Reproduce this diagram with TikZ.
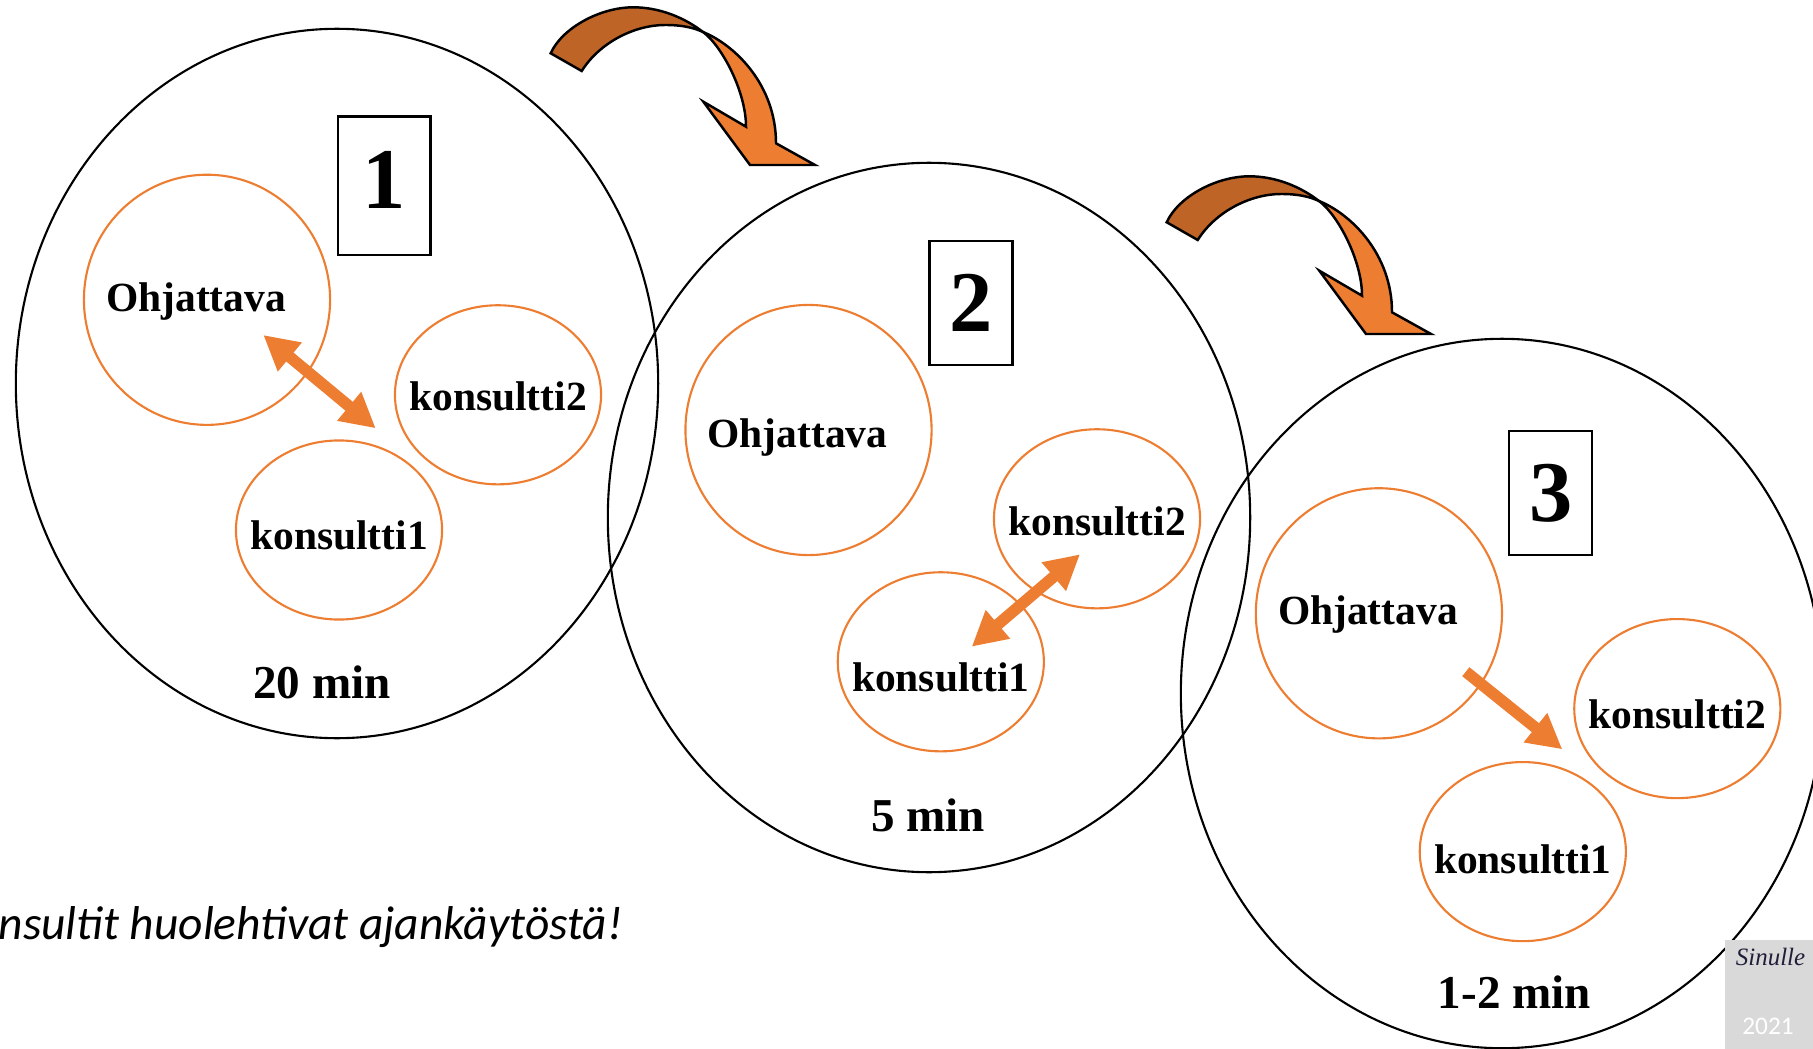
\documentclass[tikz,border=0pt]{standalone}
\usepackage{fontspec}
\setmainfont{Liberation Serif}
\newfontfamily\carlito{Carlito}
\usetikzlibrary{arrows.meta, shapes.geometric, positioning}

\definecolor{oranssi}{HTML}{ED7D31}
\definecolor{ruskea}{RGB}{190,100,38}
\definecolor{harmaa}{HTML}{D9D9D9}
\definecolor{tumma}{HTML}{1F1F3A}

\newcommand{\nimi}[2][0pt]{\makebox[0pt]{#2\hspace*{#1}}}

\tikzset{
	kaarinuoli/.pic={
		\filldraw[fill=ruskea, draw=black, line width=0.7pt] (550.7,53.3) .. controls (562,28) and (600,7.3) .. (633.3,7.3)
		.. controls (660,7.3) and (685,18) .. (703,32)
		.. controls (693,27.5) and (682,25) .. (665,25)
		.. controls (635,25) and (600,42) .. (581.7,71) -- cycle;
		\filldraw[fill=oranssi, draw=black, line width=0.7pt] (703,32) .. controls (735,45) and (776,85) .. (776,143.3)
		-- (815,165) -- (750,165) -- (703.3,101.7) -- (746,126.7)
		.. controls (746,91.7) and (722,46) .. (703,32) -- cycle;
	}
}

\begin{document}
\begin{tikzpicture}[x=0.01cm, y=-0.01cm,
	iso/.style={draw, line width=0.6pt},
	laatikko/.style={draw, line width=0.7pt, inner sep=0pt, minimum width=0.83cm, minimum height=1.24cm, font=\fontsize{24.6pt}{28pt}\selectfont\bfseries},
	henkilo/.style={ellipse, draw=oranssi, line width=0.6pt, inner sep=0pt, text depth=0pt, text height=#1, font=\fontsize{11.8pt}{14pt}\selectfont\bfseries},
	henkilo/.default=0.3cm,
	ohj/.style={henkilo=#1, minimum width=2.46cm, minimum height=2.50cm},
	ohj/.default=0.24cm,
	kons/.style={henkilo=#1, minimum width=2.06cm, minimum height=1.79cm},
	kons/.default=0.34cm,
	aika/.style={anchor=base, inner sep=0pt, font=\fontsize{13.4pt}{16pt}\selectfont\bfseries},
	nuoli/.style={draw=oranssi, line width=0.115cm, -{Triangle[length=0.345cm, width=0.352cm]}},
	kaksinuoli/.style={nuoli, {Triangle[length=0.345cm, width=0.352cm]}-{Triangle[length=0.345cm, width=0.352cm]}}]
	\useasboundingbox (0,0) rectangle (1813,1049);
	
	\draw[iso] (337,383.5) ellipse [x radius=3.21cm, y radius=3.545cm];
	\draw[iso] (929,517.5) ellipse [x radius=3.21cm, y radius=3.545cm];
	\draw[iso] (1502,693.5) ellipse [x radius=3.21cm, y radius=3.545cm];
	
	\pic at (0,0) {kaarinuoli};
	\pic at (616,169) {kaarinuoli};
	
	\node[laatikko, minimum width=0.926cm, minimum height=1.384cm, text depth=0.12cm] (b1) at (384.3,185.8) {1};
	\node[laatikko] (b2) at (971,302.8) {2};
	\node[laatikko] (b3) at (1550.7,493) {3};
	
	\node[ohj=0.234cm] (o1) at (207,299.8) {\nimi[0.22cm]{Ohjattava}};
	\node[kons=0.312cm] (k2a) at (498,394.8) {\nimi{konsultti2}};
	\node[kons=0.38cm] (k1a) at (339,530) {\nimi{konsultti1}};
	
	\node[ohj=0.34cm] (o2) at (808.5,430) {\nimi[0.22cm]{Ohjattava}};
	\node[kons=0.332cm] (k2b) at (1097,518.8) {\nimi{konsultti2}};
	\node[kons=0.592cm] (k1b) at (940.8,661.8) {\nimi{konsultti1}};
	
	\node[ohj=0.222cm] (o3) at (1378.9,613.3) {\nimi[0.22cm]{Ohjattava}};
	\node[kons=0.388cm] (k2c) at (1677.3,708.6) {\nimi{konsultti2}};
	\node[kons=0.428cm] (k1c) at (1522.8,851.6) {\nimi{konsultti1}};
	
	\coordinate (n1a) at (263.3,335);
	\coordinate (n1b) at (375.7,428.3);
	\coordinate (n2a) at (1080,554.3);
	\coordinate (n2b) at (971.7,646.7);
	\coordinate (n3a) at (1465.8,671.7);
	\coordinate (n3b) at (1562.3,749.3);
	\draw[kaksinuoli] (n1a) -- (n1b);
	\draw[kaksinuoli] (n2a) -- (n2b);
	\draw[nuoli] (n3a) -- (n3b);
	
	\node[aika] (t1) at (322,698) {20 min};
	\node[aika] (t2) at (928,831) {5 min};
	\node[aika] (t3) at (1514.5,1008.8) {1-2 min};
	
	\node[anchor=base west, inner sep=0pt, font=\carlito\itshape\fontsize{13.5pt}{16pt}\selectfont] (huom) at (-2,939) {nsultit huolehtivat ajankäytöstä!};
	
	\fill[harmaa] (1725,940) rectangle (1813,1049);
	\node[anchor=base, inner sep=0pt, text=tumma, font=\itshape\fontsize{7.1pt}{8pt}\selectfont] (sin) at (1770.5,965) {Sinulle};
	\node[anchor=base, inner sep=0pt, text=white, font=\carlito\fontsize{7.2pt}{8pt}\selectfont] (vuosi) at (1768,1034) {2021};
\end{tikzpicture}
\end{document}
